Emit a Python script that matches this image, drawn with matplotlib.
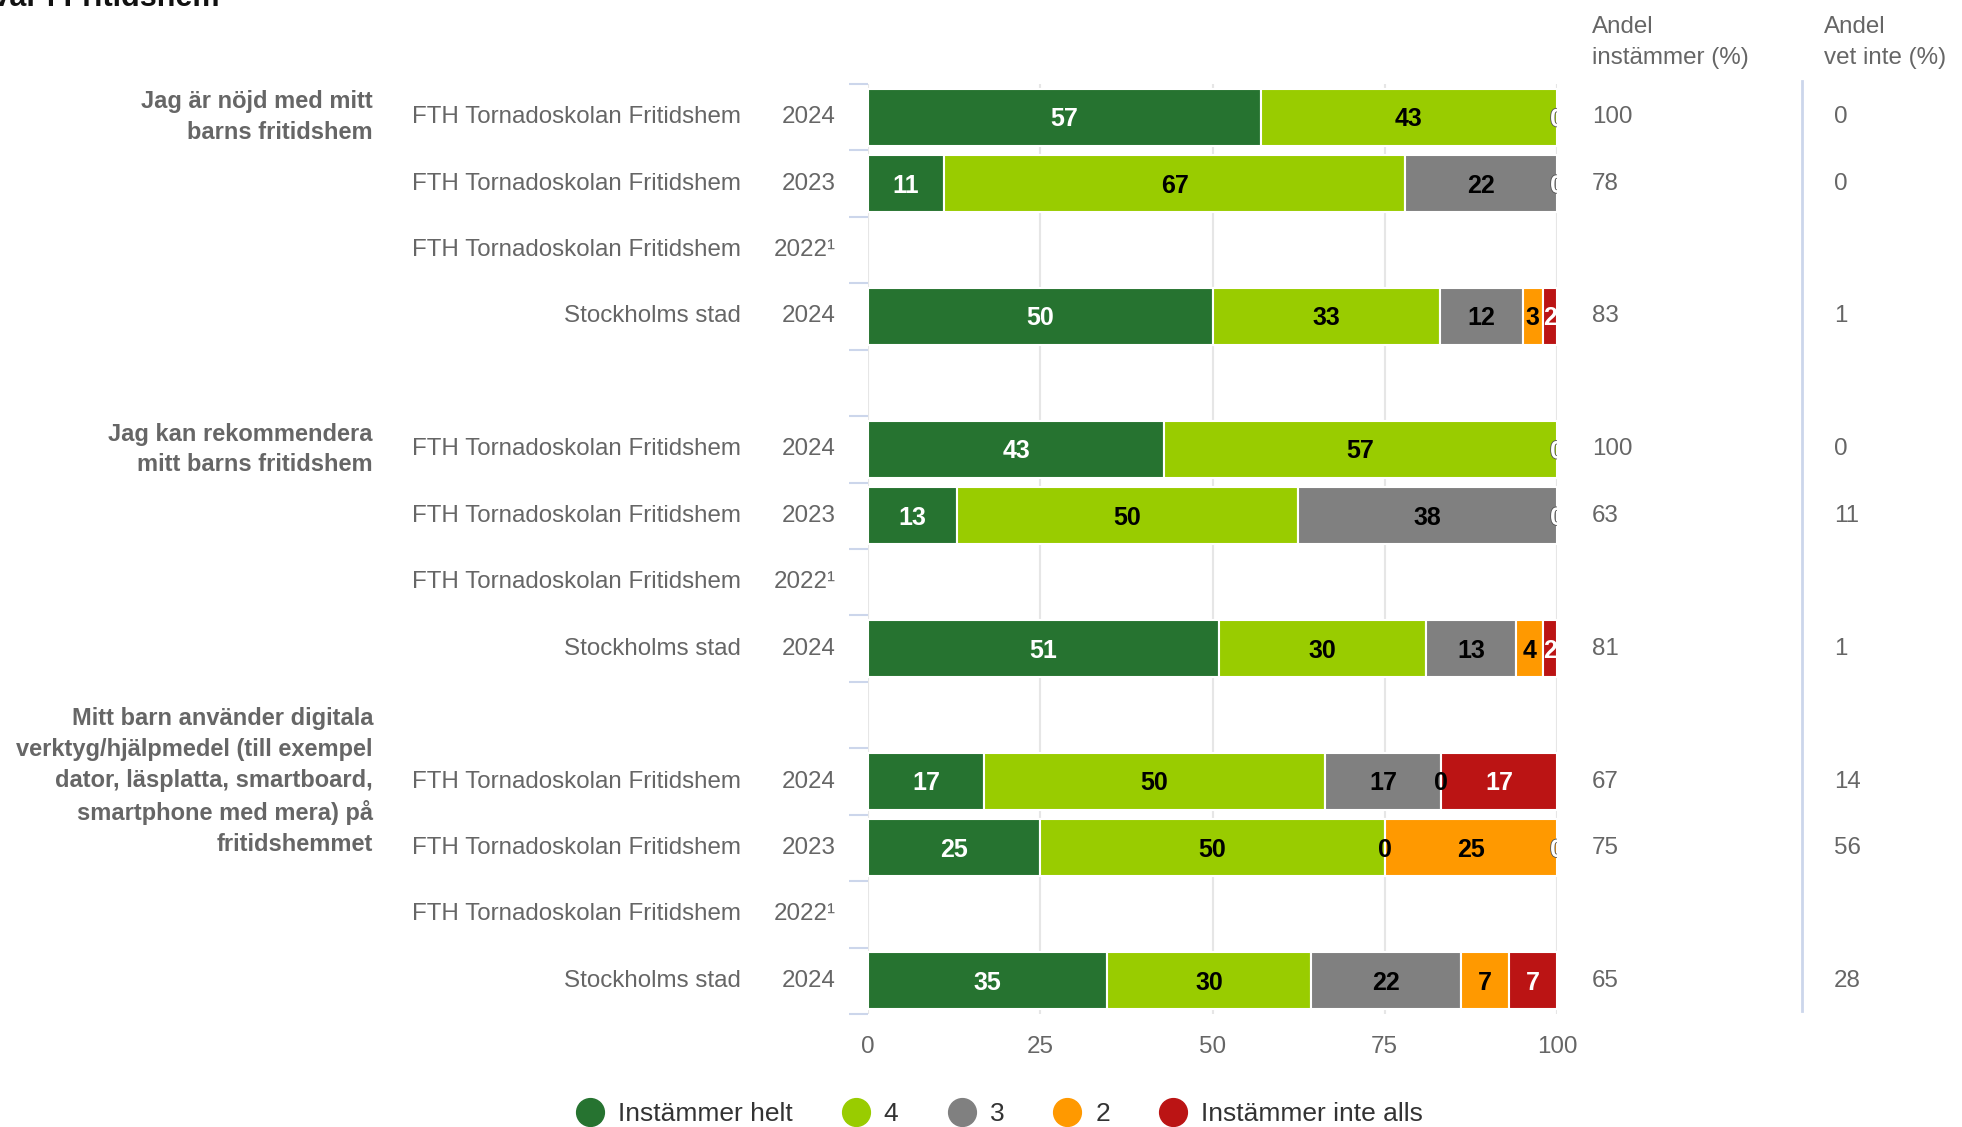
import matplotlib.pyplot as plt
import matplotlib.patheffects as pe
from matplotlib.lines import Line2D
import numpy as np

plt.rcParams['font.family'] = ['Liberation Sans', 'DejaVu Sans']

# answer categories and colours
categories = ['Instämmer helt', '4', '3', '2', 'Instämmer inte alls']
colors = ['#267330', '#99cc00', '#808080', '#ff9900', '#bb1414']
text_colors = ['white', 'black', 'black', 'black', 'white']

groups = ['Jag är nöjd med mitt\nbarns fritidshem',
          'Jag kan rekommendera\nmitt barns fritidshem',
          'Mitt barn använder digitala\nverktyg/hjälpmedel (till exempel\n'
          'dator, läsplatta, smartboard,\nsmartphone med mera) på\nfritidshemmet']

units = ['FTH Tornadoskolan Fritidshem', 'FTH Tornadoskolan Fritidshem',
         'FTH Tornadoskolan Fritidshem', 'Stockholms stad']
years = ['2024', '2023', '2022¹', '2024']

# shares per row (helt, 4, 3, 2, inte alls); None = no data
values = [
    [[57, 43, 0, 0, 0], [11, 67, 22, 0, 0], None, [50, 33, 12, 3, 2]],
    [[43, 57, 0, 0, 0], [13, 50, 38, 0, 0], None, [51, 30, 13, 4, 2]],
    [[17, 50, 17, 0, 17], [25, 50, 0, 25, 0], None, [35, 30, 22, 7, 7]],
]
agree = [['100', '78', '', '83'], ['100', '63', '', '81'], ['67', '75', '', '65']]
dont_know = [['0', '0', '', '1'], ['0', '11', '', '1'], ['14', '56', '', '28']]

W, H = 1962, 1127
TOP, BOT = 84, 1014
fig = plt.figure(figsize=(W / 100, H / 100), dpi=100)
ax = fig.add_axes([868 / W, 1 - BOT / H, (1557 - 868) / W, (BOT - TOP) / H])

ax.set_xlim(0, 100)
ax.set_ylim(13.5, -0.5)

def fx(px):
    return px / W

grey = '#666666'
fs = 17.4
for g in range(len(groups)):
    for r in range(4):
        ypos = g * 5 + r
        fy = ax.transLimits.transform((0, ypos))[1]
        fy = (1 - BOT / H) + fy * (BOT - TOP) / H
        fig.text(fx(741), fy, units[r], ha='right', va='center', fontsize=fs, color=grey)
        fig.text(fx(836), fy, years[r], ha='right', va='center', fontsize=fs, color=grey)
        fig.text(fx(1592), fy, agree[g][r], ha='left', va='center', fontsize=fs, color=grey)
        fig.text(fx(1834), fy, dont_know[g][r], ha='left', va='center', fontsize=fs, color=grey)
        if r == 0:
            fig.text(fx(373), fy, groups[g], ha='right', va='center', fontsize=17,
                     color=grey, fontweight='bold', linespacing=1.42, multialignment='right')

        row = values[g][r]
        if row is None:
            continue
        row = np.array(row, dtype=float)
        widths = row / row.sum() * 100
        left = 0
        zero_labels = {}
        for k in range(len(categories)):
            w = widths[k]
            if row[k] > 0:
                ax.barh(ypos, w, left=left, height=0.86, color=colors[k],
                        edgecolor='white', linewidth=1.5, zorder=2)
                ax.text(left + w / 2, ypos + 0.03, str(int(row[k])), ha='center', va='center',
                        fontsize=18, fontweight='bold', color=text_colors[k], zorder=3)
            else:
                zero_labels[round(left, 3)] = k
            left += w
        for pos, k in zero_labels.items():
            t = ax.text(pos, ypos + 0.03, '0', ha='center', va='center', fontsize=18,
                        fontweight='bold', color=text_colors[k], zorder=4, clip_on=True)
            if text_colors[k] == 'white':
                t.set_path_effects([pe.withStroke(linewidth=1.2, foreground='#555555')])

# grid and axes styling
ax.set_xticks([0, 25, 50, 75, 100])
ax.grid(axis='x', color='#e6e6e6', linewidth=1.5, zorder=0)
ax.set_axisbelow(True)
ax.set_yticks(np.arange(-0.5, 14, 1))
ax.set_yticklabels([])
ax.tick_params(axis='y', length=14, width=1.5, color='#ccd6eb', direction='out')
ax.tick_params(axis='x', length=0, pad=16, labelsize=fs, labelcolor=grey)
for s in ax.spines.values():
    s.set_visible(False)

# column headers and separator
fig.text(fx(1592), 1 - 16 / H, 'Andel\ninstämmer (%)', ha='left', va='top',
         fontsize=fs, color=grey, linespacing=1.55)
fig.text(fx(1824), 1 - 16 / H, 'Andel\nvet inte (%)', ha='left', va='top',
         fontsize=fs, color=grey, linespacing=1.55)
fig.add_artist(Line2D([fx(1802), fx(1802)], [1 - 81 / H, 1 - 1011 / H],
                      color='#ccd6eb', linewidth=2))

# cut-off title at the very top
fig.text(fx(219), 1 - 6 / H, 'Svar i Fritidshem', ha='right', va='baseline',
         fontsize=22, fontweight='bold', color='#111111')

# legend
handles = [Line2D([], [], marker='o', linestyle='none', markersize=20,
                  markerfacecolor=c, markeredgecolor=c) for c in colors]
fig.legend(handles, categories, loc='center', ncol=5,
           bbox_to_anchor=(1000 / W, 1 - 1114 / H), frameon=False,
           fontsize=19, labelcolor='#333333', handletextpad=0.55,
           columnspacing=1.9, handlelength=1.0)

fig.savefig('out.png', dpi=100, facecolor='white')
